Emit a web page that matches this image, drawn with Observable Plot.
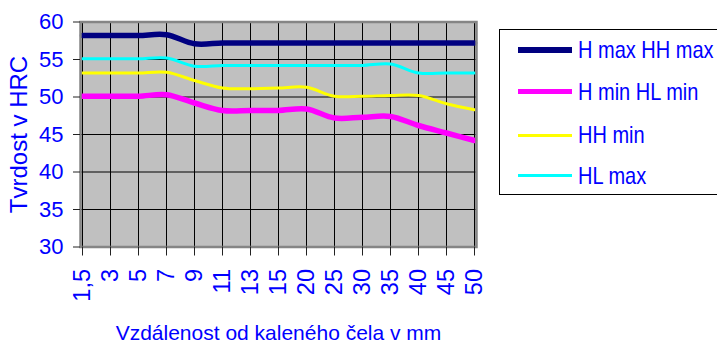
<!DOCTYPE html>
<html>
<head>
<meta charset="utf-8">
<script src="https://cdn.jsdelivr.net/npm/d3@7"></script>
<script src="https://cdn.jsdelivr.net/npm/@observablehq/plot@0.6"></script>
<style>
  body { margin: 0; background: #fff; font-family: "Liberation Sans", Arial, sans-serif; }
  #wrap { position: relative; width: 717px; height: 344px; overflow: hidden; }
  #legend { position: absolute; left: 499px; top: 29px; width: 240px; height: 166px; border: 1px solid #000; background: #fff; box-sizing: border-box; }
  .item { position: absolute; left: 18px; height: 30px; width: 230px; }
  .swatch { position: absolute; left: 0; width: 54px; }
  .lab { position: absolute; left: 60px; top: 0; line-height: 30px; font-size: 20px; color: #0000ff; white-space: nowrap; display: inline-block; transform: scaleY(1.18); transform-origin: left center; }
</style>
</head>
<body>
<div id="wrap">
  <div id="chart"></div>
  <div id="legend"></div>
</div>
<script>
const categories = ["1,5","3","5","7","9","11","13","15","20","25","30","35","40","45","50"];
const yTicks = [30, 35, 40, 45, 50, 55, 60];
const seriesNames = ["H max HH max", "H min HL min", "HH min", "HL max"];
const hMaxHHMax = [58.2,58.2,58.2,58.3,57.1,57.2,57.2,57.2,57.2,57.2,57.2,57.2,57.2,57.2,57.2];
const hMinHLMin = [50.1,50.1,50.1,50.3,49.2,48.2,48.2,48.2,48.4,47.2,47.3,47.4,46.2,45.2,44.2];
const hhMin     = [53.2,53.2,53.2,53.3,52.2,51.2,51.1,51.2,51.3,50.1,50.1,50.2,50.2,49.1,48.3];
const hlMax     = [55.1,55.1,55.1,55.2,54.1,54.2,54.2,54.2,54.2,54.2,54.2,54.4,53.2,53.2,53.2];
const xTitle = "Vzdálenost od kaleného čela v mm";
const yTitle = "Tvrdost v HRC";

const seriesValues = [hMaxHHMax, hMinHLMin, hhMin, hlMax];
const seriesColors = ["#000080", "#ff00ff", "#ffff00", "#00ffff"];
const seriesWidths = [5.5, 5.5, 3, 3];

const lineMarks = seriesValues.map((vals, s) =>
  Plot.line(categories.map((c, i) => ({x: c, y: vals[i]})), {
    x: "x", y: "y", stroke: seriesColors[s], strokeWidth: seriesWidths[s],
    curve: "catmull-rom", strokeLinejoin: "round"
  })
);

const chart = Plot.plot({
  width: 717,
  height: 344,
  marginLeft: 80,
  marginRight: 241,
  marginTop: 21.5,
  marginBottom: 97.5,
  style: { background: "transparent", fontFamily: "Liberation Sans, Arial, sans-serif", overflow: "visible" },
  x: { type: "point", domain: categories, padding: 0, label: null },
  y: { domain: [30, 60], label: null },
  marks: [
    Plot.frame({ fill: "#c0c0c0" }),
    Plot.ruleY(yTicks, { stroke: "#000", strokeWidth: 1 }),
    Plot.ruleX(categories, { stroke: "#000", strokeWidth: 1 }),
    ...lineMarks,
    Plot.frame({ stroke: "#858585", strokeWidth: 2.5 }),
    Plot.axisY(yTicks, { label: null, tickSize: 7, tickPadding: 10, fontSize: 22, fill: "#0000ff", stroke: "#222" }),
    Plot.axisX(categories, { label: null, tickSize: 9, tickFormat: () => "", stroke: "#222" }),
    Plot.text(categories, { x: d => d, frameAnchor: "bottom", dy: 22, rotate: -90, textAnchor: "end", lineAnchor: "middle", fontSize: 23.5, fill: "#0000ff" }),
    Plot.text([yTitle], { frameAnchor: "left", dx: -61, rotate: -90, textAnchor: "middle", lineAnchor: "middle", fontSize: 24, fill: "#0000ff" }),
    Plot.text([xTitle], { frameAnchor: "bottom", dy: 86, textAnchor: "middle", lineAnchor: "middle", fontSize: 21, fill: "#0000ff" })
  ]
});
document.getElementById("chart").appendChild(chart);

const legend = document.getElementById("legend");
const rowY = [20, 61.5, 105, 145.5];
seriesNames.forEach((name, i) => {
  const item = document.createElement("div");
  item.className = "item";
  item.style.top = (rowY[i] - 15) + "px";
  const sw = document.createElement("div");
  sw.className = "swatch";
  sw.style.background = seriesColors[i];
  sw.style.height = seriesWidths[i] + "px";
  sw.style.top = (15 - seriesWidths[i] / 2) + "px";
  const lab = document.createElement("span");
  lab.className = "lab";
  lab.textContent = name;
  item.appendChild(sw);
  item.appendChild(lab);
  legend.appendChild(item);
});
</script>
</body>
</html>
